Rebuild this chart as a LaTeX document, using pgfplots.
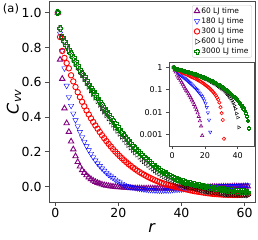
\documentclass[border=0pt]{standalone}
\usepackage{fontspec}
\setmainfont{DejaVu Sans}
\usepackage{pgfplots}
\usepackage{pgfplotstable}
\pgfplotsset{compat=1.18}
\definecolor{mpurple}{RGB}{128,0,128}
\definecolor{mgreen}{RGB}{0,128,0}
\pgfdeclareplotmark{pplus}{%
  \pgfpathmoveto{\pgfqpoint{-.35\pgfplotmarksize}{\pgfplotmarksize}}%
  \pgfpathlineto{\pgfqpoint{.35\pgfplotmarksize}{\pgfplotmarksize}}%
  \pgfpathlineto{\pgfqpoint{.35\pgfplotmarksize}{.35\pgfplotmarksize}}%
  \pgfpathlineto{\pgfqpoint{\pgfplotmarksize}{.35\pgfplotmarksize}}%
  \pgfpathlineto{\pgfqpoint{\pgfplotmarksize}{-.35\pgfplotmarksize}}%
  \pgfpathlineto{\pgfqpoint{.35\pgfplotmarksize}{-.35\pgfplotmarksize}}%
  \pgfpathlineto{\pgfqpoint{.35\pgfplotmarksize}{-\pgfplotmarksize}}%
  \pgfpathlineto{\pgfqpoint{-.35\pgfplotmarksize}{-\pgfplotmarksize}}%
  \pgfpathlineto{\pgfqpoint{-.35\pgfplotmarksize}{-.35\pgfplotmarksize}}%
  \pgfpathlineto{\pgfqpoint{-\pgfplotmarksize}{-.35\pgfplotmarksize}}%
  \pgfpathlineto{\pgfqpoint{-\pgfplotmarksize}{.35\pgfplotmarksize}}%
  \pgfpathlineto{\pgfqpoint{-.35\pgfplotmarksize}{.35\pgfplotmarksize}}%
  \pgfpathclose
  \pgfusepathqstroke
}
\pgfplotstableread{
r P B R K G Ri Ki
0.8 1.000 1.000 1.000 1.000 1.000 1.000 1.000
1.5 0.73 0.880 0.860 0.910 0.910 0.860 0.910
2.2 0.62 0.780 0.780 0.860 0.860 0.780 0.860
2.9 0.45 0.680 0.740 0.835 0.835 0.740 0.835
3.6 0.365 0.580 0.710 0.806 0.812 0.710 0.806
4.3 0.315 0.515 0.680 0.780 0.787 0.680 0.780
5.0 0.26 0.465 0.640 0.756 0.764 0.640 0.756
5.7 0.215 0.420 0.605 0.732 0.741 0.605 0.732
6.4 0.175 0.382 0.573 0.709 0.719 0.573 0.709
7.1 0.142 0.347 0.543 0.686 0.697 0.543 0.686
7.8 0.116 0.315 0.515 0.663 0.675 0.515 0.663
8.5 0.095 0.285 0.488 0.641 0.653 0.488 0.641
9.2 0.080 0.258 0.462 0.619 0.632 0.462 0.619
9.9 0.066 0.233 0.438 0.597 0.611 0.438 0.597
10.6 0.054 0.210 0.415 0.575 0.590 0.415 0.575
11.3 0.044 0.189 0.393 0.554 0.569 0.393 0.554
12.0 0.035 0.169 0.372 0.533 0.549 0.372 0.533
12.7 0.028 0.151 0.352 0.512 0.529 0.352 0.512
13.4 0.022 0.134 0.333 0.492 0.509 0.333 0.492
14.1 0.017 0.119 0.314 0.471 0.489 0.314 0.471
14.8 0.0128 0.105 0.296 0.451 0.470 0.296 0.451
15.5 0.0093 0.092 0.279 0.432 0.451 0.279 0.432
16.2 0.0064 0.080 0.262 0.412 0.432 0.259 0.412
16.9 0.0041 0.069 0.246 0.393 0.414 0.242 0.393
17.6 0.0024 0.059 0.231 0.375 0.396 0.225 0.375
18.3 0.0009 0.050 0.216 0.357 0.378 0.208 0.357
19.0 -0.0006 0.041 0.202 0.339 0.361 0.192 0.339
19.7 -0.0019 0.0325 0.189 0.322 0.344 0.178 0.322
20.4 -0.0031 0.0245 0.176 0.305 0.327 0.163 0.305
21.1 -0.0042 0.0165 0.164 0.288 0.311 0.149 0.288
21.8 -0.0052 0.0095 0.152 0.272 0.295 0.135 0.272
22.5 -0.0061 0.0045 0.141 0.256 0.280 0.123 0.256
23.2 -0.0069 0.0013 0.130 0.241 0.265 0.110 0.241
23.9 -0.0076 -0.0015 0.120 0.226 0.250 0.098 0.226
24.6 -0.0082 -0.004 0.110 0.212 0.236 0.086 0.212
25.3 -0.0087 -0.0065 0.101 0.198 0.222 0.0755 0.198
26.0 -0.0091 -0.009 0.092 0.185 0.209 0.065 0.185
26.7 -0.0094 -0.011 0.084 0.172 0.196 0.055 0.172
27.4 -0.0097 -0.013 0.076 0.159 0.184 0.045 0.159
28.1 -0.0099 -0.015 0.069 0.147 0.172 0.0365 0.147
28.8 -0.0100 -0.0165 0.062 0.136 0.160 0.027 0.136
29.5 -0.0100 -0.018 0.055 0.125 0.149 0.0165 0.125
30.2 -0.0100 -0.019 0.049 0.114 0.138 0.009 0.114
30.9 -0.0100 -0.020 0.043 0.104 0.128 0.0045 0.103
31.6 -0.0100 -0.021 0.037 0.094 0.118 0.00065 0.093
32.3 -0.0100 -0.0215 0.032 0.085 0.108 nan 0.083
33.0 -0.0100 -0.022 0.027 0.076 0.099 nan 0.073
33.7 -0.0100 -0.022 0.022 0.068 0.091 nan 0.065
34.4 -0.0100 -0.0218 0.018 0.060 0.083 nan 0.056
35.1 -0.0100 -0.0213 0.014 0.053 0.075 nan 0.0485
35.8 -0.0099 -0.0207 0.010 0.046 0.068 nan 0.041
36.5 -0.0097 -0.020 0.006 0.039 0.061 nan 0.033
37.2 -0.0095 -0.019 0.003 0.033 0.055 nan 0.0266
37.9 -0.0092 -0.018 0.000 0.027 0.049 nan 0.020
38.6 -0.0089 -0.017 -0.003 0.022 0.043 nan 0.0143
39.3 -0.0085 -0.016 -0.006 0.017 0.038 nan 0.0088
40.0 -0.0081 -0.0148 -0.009 0.012 0.033 nan 0.0058
40.7 -0.0077 -0.0136 -0.012 0.008 0.029 nan 0.0021
41.4 -0.0072 -0.0124 -0.015 0.004 0.025 nan nan
42.1 -0.0067 -0.0112 -0.018 0.000 0.021 nan nan
42.8 -0.0062 -0.010 -0.021 -0.004 0.018 nan nan
43.5 -0.0057 -0.0089 -0.023 -0.007 0.015 nan nan
44.2 -0.0052 -0.0078 -0.026 -0.010 0.012 nan nan
44.9 -0.0047 -0.0067 -0.028 -0.013 0.009 nan nan
45.6 -0.0042 -0.0057 -0.030 -0.016 0.0065 nan nan
46.3 -0.0037 -0.0047 -0.032 -0.019 0.0042 nan nan
47.0 -0.0032 -0.0038 -0.034 -0.022 0.0019 nan nan
47.7 -0.0027 -0.0029 -0.036 -0.024 -0.0005 nan nan
48.4 -0.0023 -0.0021 -0.038 -0.027 -0.003 nan nan
49.1 -0.0019 -0.0013 -0.039 -0.029 -0.005 nan nan
49.8 -0.0015 -0.0006 -0.041 -0.031 -0.007 nan nan
50.5 -0.0011 0.0001 -0.042 -0.033 -0.009 nan nan
51.2 -0.0007 0.0008 -0.043 -0.035 -0.011 nan nan
51.9 -0.0004 0.0014 -0.044 -0.037 -0.013 nan nan
52.6 -0.0001 0.0020 -0.045 -0.039 -0.015 nan nan
53.3 0.0002 0.0026 -0.046 -0.040 -0.017 nan nan
54.0 0.0005 0.0031 -0.046 -0.042 -0.019 nan nan
54.7 0.0007 0.0036 -0.047 -0.043 -0.020 nan nan
55.4 0.0009 0.0041 -0.047 -0.044 -0.022 nan nan
56.1 0.0011 0.0046 -0.047 -0.045 -0.023 nan nan
56.8 0.0013 0.0050 -0.047 -0.046 -0.025 nan nan
57.5 0.0015 0.0054 -0.047 -0.047 -0.026 nan nan
58.2 0.0016 0.0058 -0.046 -0.048 -0.027 nan nan
58.9 0.0017 0.0062 -0.046 -0.048 -0.028 nan nan
59.6 0.0018 0.0066 -0.045 -0.049 -0.029 nan nan
60.3 0.0019 0.0070 -0.044 -0.049 -0.030 nan nan
61.0 0.0020 0.0073 -0.043 -0.050 -0.031 nan nan
}\data
\begin{document}
\begin{tikzpicture}
\useasboundingbox (-49pt,-38pt) rectangle (209pt,202pt);
\begin{axis}[
  name=main, at={(0pt,0pt)}, anchor=south west,
  width=206pt, height=201pt, scale only axis,
  xmin=-2, xmax=63.3, ymin=-0.088, ymax=1.067,
  xtick={0,20,40,60}, ytick={0,0.2,0.4,0.6,0.8,1.0},
  yticklabel style={/pgf/number format/.cd, fixed, fixed zerofill, precision=1},
  /pgf/number format/assume math mode=true,
  tick align=outside, tick pos=left, major tick length=4pt,
  axis line style={black!70}, every tick/.style={black!70, line width=0.8pt},
  tick label style={font=\fontsize{12.5}{14}\selectfont},
  xticklabel style={yshift=1pt},
  xlabel={\textit{r}}, ylabel={\textit{C}\textsubscript{\textit{vv}}},
  every axis x label/.style={at={(axis description cs:0.5,-0.129)}, anchor=center, font=\fontsize{16}{18}\selectfont},
  every axis y label/.style={at={(axis description cs:-0.17,0.5)}, rotate=90, anchor=center, font=\fontsize{16}{18}\selectfont},
  legend style={at={(0.985,0.98)}, anchor=north east, draw=black!20, rounded corners=2pt,
    font=\fontsize{7.5}{8.5}\selectfont, inner xsep=2pt, inner ysep=1pt, row sep=0.6pt,
    nodes={inner sep=1.2pt}},
  legend cell align=left,
  legend image code/.code={\draw[mark repeat=2,mark phase=2,#1] plot coordinates {(0pt,0pt) (5.5pt,0pt) (11pt,0pt)};},
  every axis plot/.append style={only marks, mark size=3.1pt, mark options={line width=0.9pt}},
]
\addplot[mpurple, mark=triangle] table[x=r,y=P] {\data};
\addlegendentry{60 LJ time}
\addplot[blue, mark=triangle, mark options={rotate=180}] table[x=r,y=B] {\data};
\addlegendentry{180 LJ time}
\addplot[red, mark=o, mark size=2.7pt] table[x=r,y=R] {\data};
\addlegendentry{300 LJ time}
\addplot[black, mark=triangle, mark options={rotate=-90}] table[x=r,y=K] {\data};
\addlegendentry{600 LJ time}
\addplot[mgreen, mark=pplus, mark size=2.8pt] table[x=r,y=G] {\data};
\addlegendentry{3000 LJ time}
\end{axis}
\node[font=\fontsize{11.5}{13}\selectfont] at (-38pt,193pt) {(a)};
\begin{axis}[
  at={(120pt,56pt)}, anchor=south west,
  width=85pt, height=83.3pt, scale only axis,
  axis background/.style={fill=white},
  ymode=log, xmin=-2, xmax=50, ymin=3.1e-4, ymax=1.62,
  xtick={0,20,40}, ytick={1,0.1,0.01,0.001}, yticklabels={1,0.1,0.01,0.001},
  minor tick length=0pt,
  /pgf/number format/assume math mode=true,
  tick align=outside, tick pos=left, major tick length=3pt,
  axis line style={black!70}, every tick/.style={black!70, line width=0.7pt},
  tick label style={font=\fontsize{8}{9}\selectfont},
  every axis plot/.append style={only marks, mark size=1.9pt, mark options={line width=0.6pt}},
  restrict x to domain=0:50,
]
\addplot[mpurple, mark=triangle] table[x=r,y=P] {\data};
\addplot[blue, mark=triangle, mark options={rotate=180}] table[x=r,y=B] {\data};
\addplot[red, mark=o, mark size=1.7pt] table[x=r,y=Ri] {\data};
\addplot[black, mark=triangle, mark options={rotate=-90}] table[x=r,y=Ki] {\data};
\addplot[mgreen, mark=pplus, mark size=1.7pt] table[x=r,y=G] {\data};
\end{axis}
\end{tikzpicture}
\end{document}
